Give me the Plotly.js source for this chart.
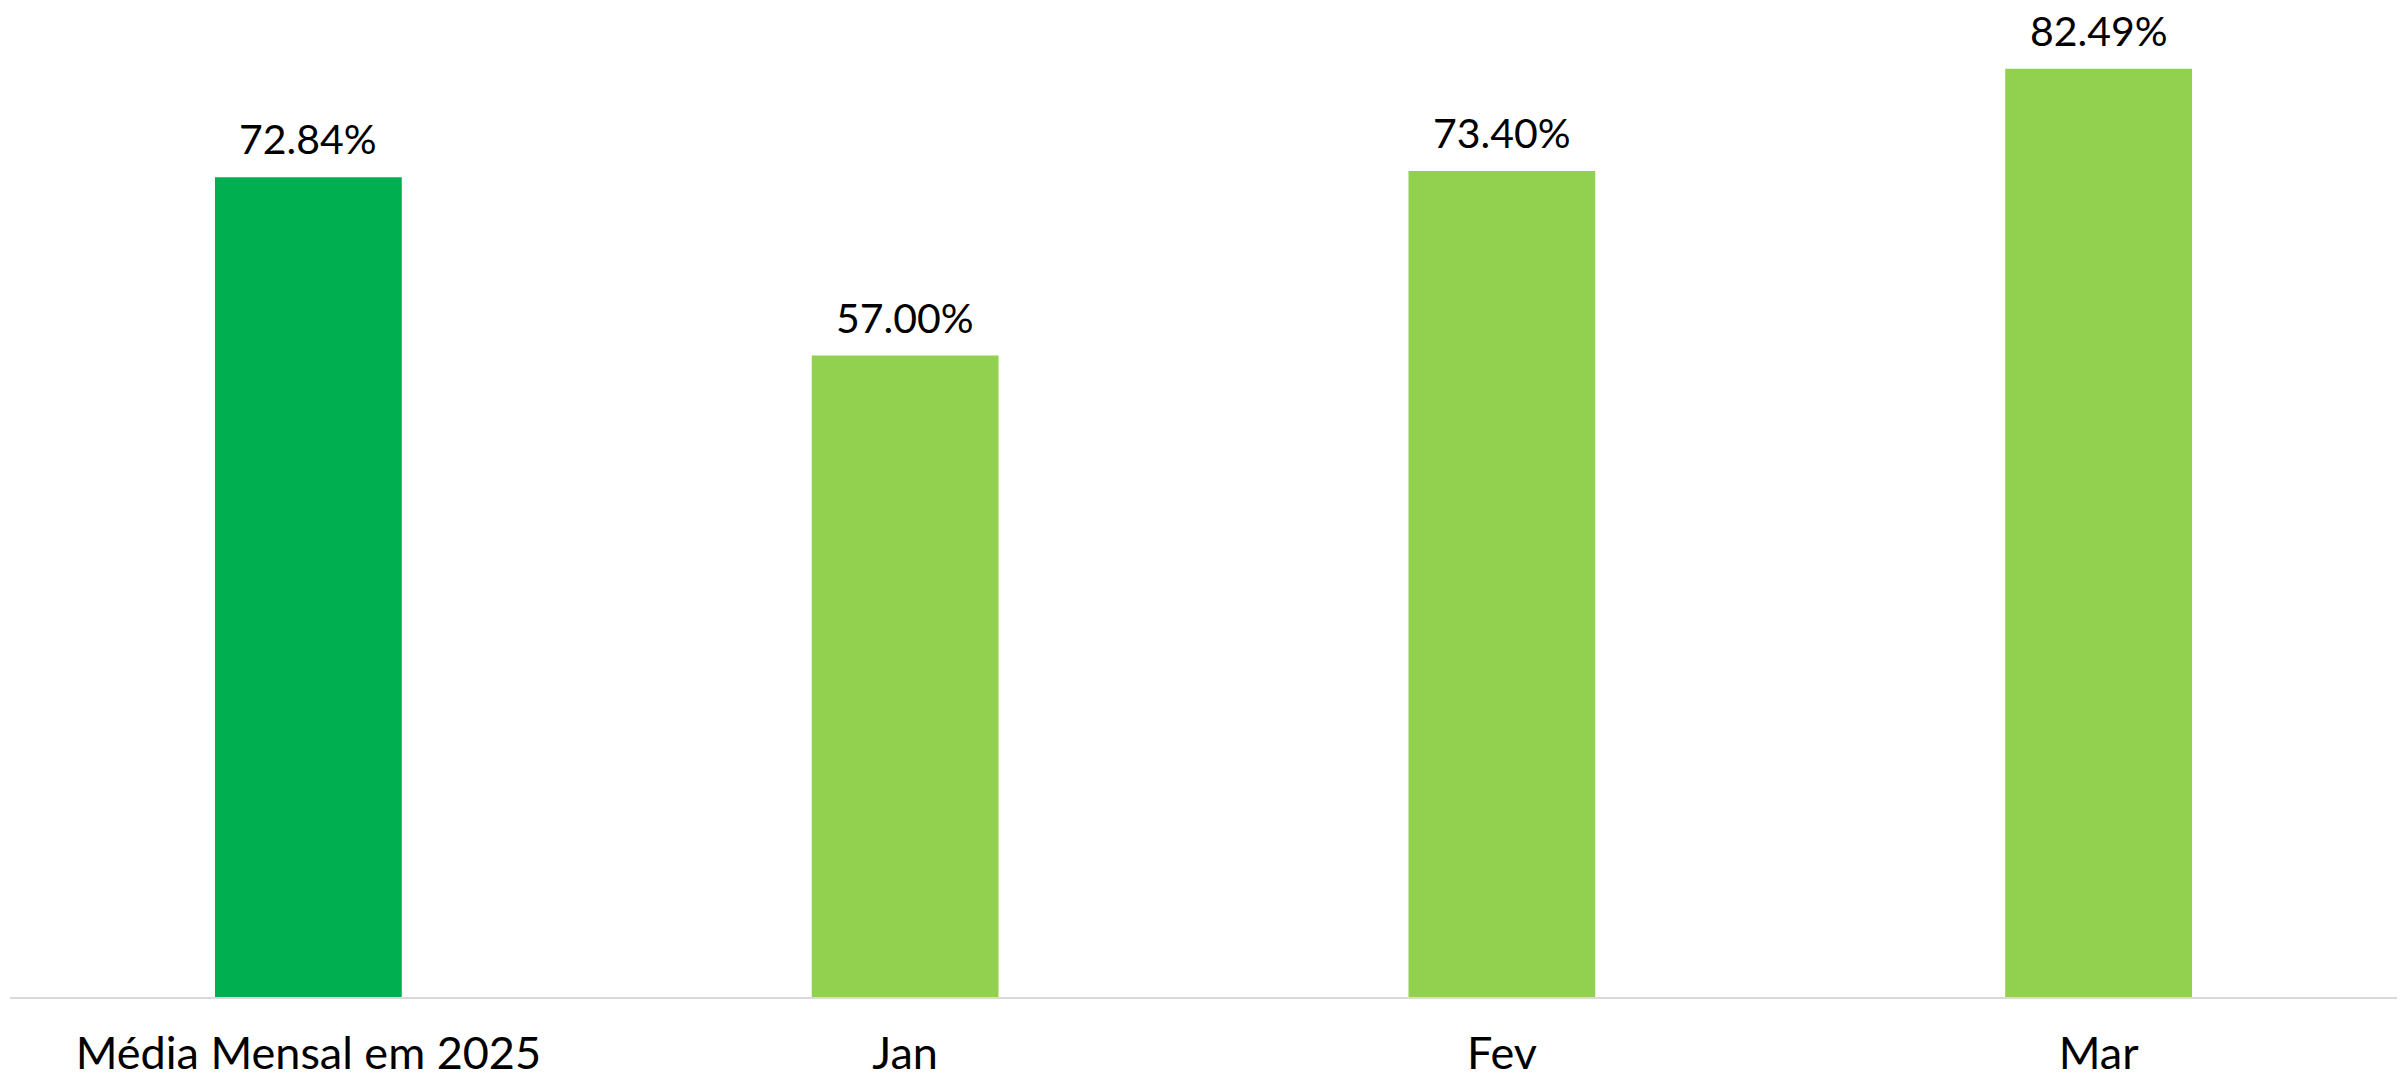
<!DOCTYPE html>
<html>
<head>
<meta charset="utf-8">
<script src="https://cdn.plot.ly/plotly-3.0.1.min.js"></script>
<style>
  html, body { margin: 0; padding: 0; background: #ffffff; }
  #chart { width: 2405px; height: 1081px; }
</style>
</head>
<body>
<div id="chart"></div>
<script>
// Data
const categories = ["Média Mensal em 2025", "Jan", "Fev", "Mar"];
const values = [72.84, 57.00, 73.40, 82.49];
const barColors = ["#00B050", "#92D050", "#92D050", "#92D050"];

const FONT = "Lato, 'Open Sans', sans-serif";

const trace = {
  type: "bar",
  x: categories,
  y: values,
  marker: { color: barColors, line: { width: 0 } },
  hoverinfo: "skip",
  cliponaxis: false
};

const annotations = categories.map((c, i) => ({
  x: c,
  y: values[i],
  xref: "x",
  yref: "y",
  text: values[i].toFixed(2) + "%",
  showarrow: false,
  xanchor: "center",
  yanchor: "bottom",
  yshift: 12,
  font: { family: FONT, size: 41, color: "#000000" }
}));

const layout = {
  width: 2405,
  height: 1081,
  margin: { l: 10, r: 8, t: 0, b: 84, pad: 0 },
  paper_bgcolor: "#ffffff",
  plot_bgcolor: "#ffffff",
  showlegend: false,
  bargap: 0.687,
  xaxis: {
    type: "category",
    showline: true,
    linecolor: "#D9D9D9",
    linewidth: 2,
    ticks: "",
    showgrid: false,
    zeroline: false,
    tickfont: { family: FONT, size: 45, color: "#000000" },
    ticklabelstandoff: 16,
    fixedrange: true
  },
  yaxis: {
    visible: false,
    range: [0, 88.6],
    showgrid: false,
    zeroline: false,
    fixedrange: true
  },
  annotations: annotations
};

Plotly.newPlot("chart", [trace], layout, { displayModeBar: false, staticPlot: true });
</script>
</body>
</html>
